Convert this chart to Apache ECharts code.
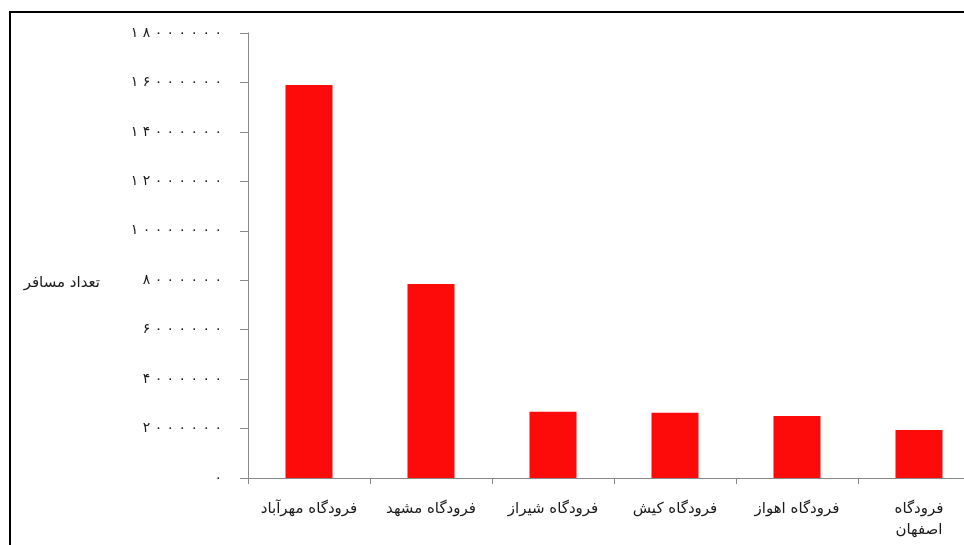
<!DOCTYPE html>
<html>
<head>
<meta charset="utf-8">
<script src="https://cdn.jsdelivr.net/npm/echarts@6/dist/echarts.min.js"></script>
<style>
  html, body { margin: 0; padding: 0; background: #fff; overflow: hidden; }
  #frame { position: absolute; left: 9px; top: 11px; width: 1000px; height: 600px;
           border-top: 2px solid #000; border-left: 2px solid #000; }
  #echart { position: absolute; left: 0; top: 0; width: 990px; height: 545px; }
</style>
</head>
<body>
<div id="frame"></div>
<div id="echart"></div>
<script>
// داده‌ها
var airports = ['فرودگاه مهرآباد', 'فرودگاه مشهد', 'فرودگاه شیراز', 'فرودگاه کیش', 'فرودگاه اهواز', 'فرودگاه\nاصفهان'];
var passengers = [15900000, 7850000, 2680000, 2640000, 2510000, 1940000];
var yTicks = [0, 2000000, 4000000, 6000000, 8000000, 10000000, 12000000, 14000000, 16000000, 18000000];

// تبدیل رقم‌ها به فارسی (با فاصله بین رقم‌ها مثل تصویر)
var faDigits = ['۰', '۱', '۲', '۳', '۴', '۵', '۶', '۷', '۸', '۹'];
function toFa(n) {
    return String(n).split('').map(function (d) { return faDigits[+d]; }).join(' ');
}

var myChart = echarts.init(document.getElementById('echart'));
var option = {
    animation: false,
    grid: {
        left: 248,
        right: 10,
        top: 33,
        bottom: 67
    },
    xAxis: {
        type: 'category',
        data: airports,
        axisLine: { lineStyle: { color: '#8a8a8a', width: 1 } },
        axisTick: { show: true, length: 6, lineStyle: { color: '#8a8a8a' } },
        axisLabel: {
            color: '#1a1a1a',
            fontSize: 15,
            fontFamily: 'DejaVu Sans',
            margin: 21,
            interval: 0,
            lineHeight: 21
        }
    },
    yAxis: {
        type: 'value',
        min: yTicks[0],
        max: yTicks[yTicks.length - 1],
        interval: 2000000,
        name: 'تعداد مسافر',
        nameLocation: 'middle',
        nameRotate: 0,
        nameGap: 148,
        nameTextStyle: {
            color: '#1a1a1a',
            fontSize: 15,
            fontFamily: 'DejaVu Sans',
            verticalAlign: 'top',
            padding: [20, 0, 0, 0]
        },
        axisLine: { show: true, lineStyle: { color: '#8a8a8a', width: 1 } },
        axisTick: { show: true, length: 8, lineStyle: { color: '#8a8a8a' } },
        splitLine: { show: false },
        axisLabel: {
            color: '#1a1a1a',
            fontSize: 14,
            fontFamily: 'DejaVu Sans',
            margin: 26,
            formatter: function (v) { return toFa(v); }
        }
    },
    series: [{
        type: 'bar',
        data: passengers,
        barWidth: 47,
        itemStyle: { color: '#fd0a0a' }
    }]
};
myChart.setOption(option);
</script>
</body>
</html>
